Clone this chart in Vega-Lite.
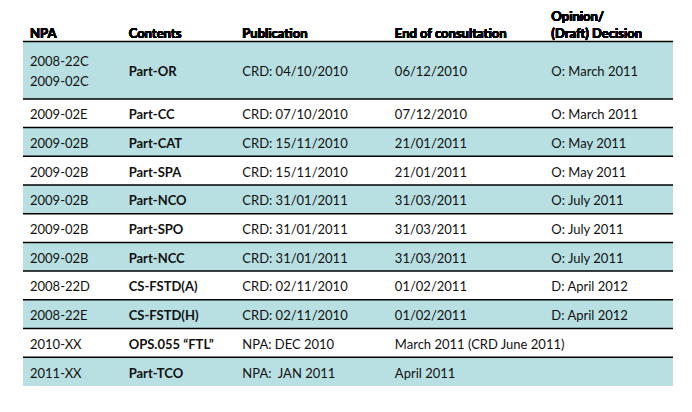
{
  "$schema": "https://vega.github.io/schema/vega-lite/v6.json",
  "width": 692,
  "height": 412,
  "autosize": {"type": "fit", "contains": "padding"},
  "padding": {"left": 22, "right": 18, "top": 0, "bottom": 0},
  "background": "white",
  "config": {
    "view": {"stroke": null},
    "font": "Lato",
    "text": {"font": "Lato", "fontSize": 13, "lineBreak": "\n", "lineHeight": 20, "align": "left", "color": "#111111"}
  },
  "data": {
    "values": [
      {"row": 1, "r0": 0, "r1": 2, "npa": "2008-22C\n2009-02C", "contents": "Part-OR", "publication": "CRD: 04/10/2010", "end": "06/12/2010", "opinion": "O: March 2011"},
      {"row": 2, "r0": 2, "r1": 3, "npa": "2009-02E", "contents": "Part-CC", "publication": "CRD: 07/10/2010", "end": "07/12/2010", "opinion": "O: March 2011"},
      {"row": 3, "r0": 3, "r1": 4, "npa": "2009-02B", "contents": "Part-CAT", "publication": "CRD: 15/11/2010", "end": "21/01/2011", "opinion": "O: May 2011"},
      {"row": 4, "r0": 4, "r1": 5, "npa": "2009-02B", "contents": "Part-SPA", "publication": "CRD: 15/11/2010", "end": "21/01/2011", "opinion": "O: May 2011"},
      {"row": 5, "r0": 5, "r1": 6, "npa": "2009-02B", "contents": "Part-NCO", "publication": "CRD: 31/01/2011", "end": "31/03/2011", "opinion": "O: July 2011"},
      {"row": 6, "r0": 6, "r1": 7, "npa": "2009-02B", "contents": "Part-SPO", "publication": "CRD: 31/01/2011", "end": "31/03/2011", "opinion": "O: July 2011"},
      {"row": 7, "r0": 7, "r1": 8, "npa": "2009-02B", "contents": "Part-NCC", "publication": "CRD: 31/01/2011", "end": "31/03/2011", "opinion": "O: July 2011"},
      {"row": 8, "r0": 8, "r1": 9, "npa": "2008-22D", "contents": "CS-FSTD(A)", "publication": "CRD: 02/11/2010", "end": "01/02/2011", "opinion": "D: April 2012"},
      {"row": 9, "r0": 9, "r1": 10, "npa": "2008-22E", "contents": "CS-FSTD(H)", "publication": "CRD: 02/11/2010", "end": "01/02/2011", "opinion": "D: April 2012"},
      {"row": 10, "r0": 10, "r1": 11, "npa": "2010-XX", "contents": "OPS.055 “FTL”", "publication": "NPA: DEC 2010", "end": "March 2011 (CRD June 2011)", "opinion": ""},
      {"row": 11, "r0": 11, "r1": 12, "npa": "2011-XX", "contents": "Part-TCO", "publication": "NPA:\u00a0 JAN 2011", "end": "April 2011", "opinion": ""}
    ]
  },
  "transform": [
    {"calculate": "(datum.r0 + datum.r1) / 2", "as": "mid"},
    {"calculate": "datum.mid - (length(split(datum.npa, '\\n')) - 1) * 0.348", "as": "npaMid"}
  ],
  "layer": [
    {
      "transform": [{"filter": "datum.row % 2 == 1"}],
      "mark": {"type": "rect", "color": "#b8dfe1"},
      "encoding": {
        "x": {"datum": 0, "type": "quantitative", "scale": {"domain": [0, 652], "nice": false, "zero": false}, "axis": null},
        "x2": {"datum": 652},
        "y": {"field": "r0", "type": "quantitative", "scale": {"domain": [-1.446, 12.91], "reverse": true, "nice": false, "zero": false}, "axis": null},
        "y2": {"field": "r1"}
      }
    },
    {
      "mark": {"type": "rule", "color": "#000000", "strokeWidth": 1.5},
      "encoding": {
        "x": {"datum": 0, "type": "quantitative"},
        "x2": {"datum": 652},
        "y": {"field": "r0", "type": "quantitative"}
      }
    },
    {
      "mark": {"type": "text", "baseline": "middle", "dy": 2},
      "encoding": {"x": {"datum": 7, "type": "quantitative"}, "y": {"field": "npaMid", "type": "quantitative"}, "text": {"field": "npa"}}
    },
    {
      "mark": {"type": "text", "baseline": "middle", "dy": 2, "fontWeight": "bold"},
      "encoding": {"x": {"datum": 106, "type": "quantitative"}, "y": {"field": "mid", "type": "quantitative"}, "text": {"field": "contents"}}
    },
    {
      "mark": {"type": "text", "baseline": "middle", "dy": 2},
      "encoding": {"x": {"datum": 220, "type": "quantitative"}, "y": {"field": "mid", "type": "quantitative"}, "text": {"field": "publication"}}
    },
    {
      "mark": {"type": "text", "baseline": "middle", "dy": 2},
      "encoding": {"x": {"datum": 373, "type": "quantitative"}, "y": {"field": "mid", "type": "quantitative"}, "text": {"field": "end"}}
    },
    {
      "mark": {"type": "text", "baseline": "middle", "dy": 2},
      "encoding": {"x": {"datum": 530, "type": "quantitative"}, "y": {"field": "mid", "type": "quantitative"}, "text": {"field": "opinion"}}
    },
    {
      "mark": {"type": "text", "baseline": "alphabetic", "fontWeight": "bold", "color": "#000000"},
      "encoding": {"x": {"datum": 7, "type": "quantitative"}, "y": {"datum": -0.108, "type": "quantitative"}, "text": {"value": "NPA"}}
    },
    {
      "mark": {"type": "text", "baseline": "alphabetic", "fontWeight": "bold", "color": "#000000"},
      "encoding": {"x": {"datum": 106, "type": "quantitative"}, "y": {"datum": -0.108, "type": "quantitative"}, "text": {"value": "Contents"}}
    },
    {
      "mark": {"type": "text", "baseline": "alphabetic", "fontWeight": "bold", "color": "#000000"},
      "encoding": {"x": {"datum": 220, "type": "quantitative"}, "y": {"datum": -0.108, "type": "quantitative"}, "text": {"value": "Publication"}}
    },
    {
      "mark": {"type": "text", "baseline": "alphabetic", "fontWeight": "bold", "color": "#000000"},
      "encoding": {"x": {"datum": 373, "type": "quantitative"}, "y": {"datum": -0.108, "type": "quantitative"}, "text": {"value": "End of consultation"}}
    },
    {
      "mark": {"type": "text", "baseline": "alphabetic", "fontWeight": "bold", "color": "#000000"},
      "encoding": {"x": {"datum": 530, "type": "quantitative"}, "y": {"datum": -0.725, "type": "quantitative"}, "text": {"value": "Opinion/"}}
    },
    {
      "mark": {"type": "text", "baseline": "alphabetic", "fontWeight": "bold", "color": "#000000"},
      "encoding": {"x": {"datum": 530, "type": "quantitative"}, "y": {"datum": -0.108, "type": "quantitative"}, "text": {"value": "(Draft) Decision"}}
    }
  ]
}
